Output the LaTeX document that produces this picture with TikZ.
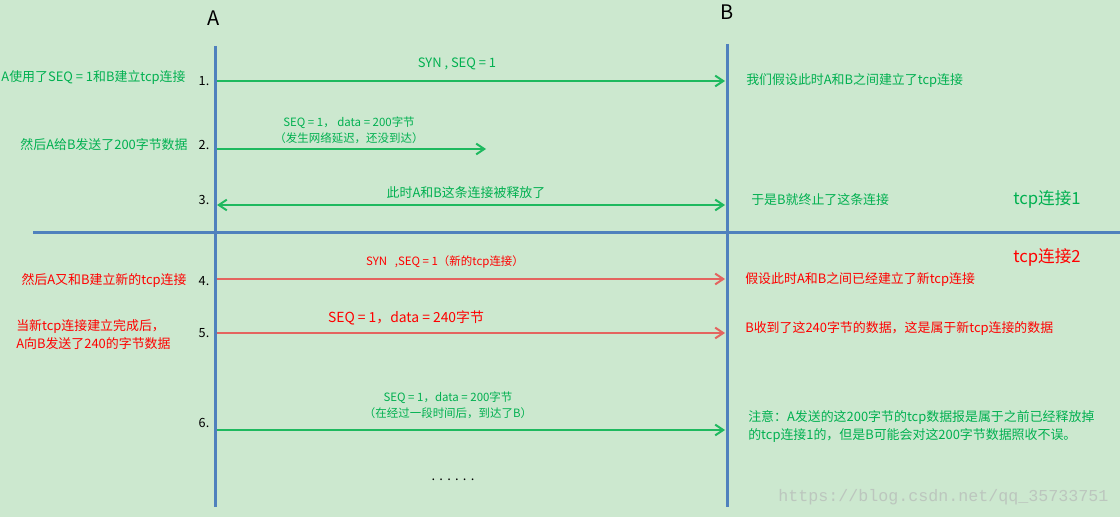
\documentclass[tikz,border=0pt]{standalone}
\usepackage{fontspec}
\setmainfont{Noto Sans CJK SC}
\newfontfamily\wmfont{Liberation Mono}
\usetikzlibrary{arrows.meta}
\definecolor{bg}{RGB}{204,232,207}
\definecolor{lifeblue}{RGB}{79,129,189}
\definecolor{tgreen}{RGB}{0,176,80}
\definecolor{agreen}{RGB}{30,185,95}
\definecolor{tred}{RGB}{255,0,0}
\definecolor{ared}{RGB}{228,100,95}
\definecolor{wmgray}{RGB}{188,198,190}
\tikzset{
  life/.style={draw=lifeblue,line width=2.25pt},
  msg/.style={line width=1.5pt,-{Straight Barb[length=6pt,width=8pt]}},
  dmsg/.style={line width=1.5pt,{Straight Barb[length=6pt,width=8pt]}-{Straight Barb[length=6pt,width=8pt]}},
  lbl/.style={inner sep=0pt,font=\fontsize{9.7}{13.5}\selectfont},
  small/.style={inner sep=0pt,font=\fontsize{8.6}{12}\selectfont},
  big/.style={inner sep=0pt,font=\fontsize{10.4}{14}\selectfont},
  huge/.style={inner sep=0pt,font=\fontsize{12.5}{15}\selectfont},
  num/.style={inner sep=0pt,font=\fontsize{9.5}{12}\selectfont,text=black},
  gr/.style={text=tgreen},
  rd/.style={text=tred},
}
\begin{document}
\begin{tikzpicture}[x=0.75pt,y=-0.75pt]
\fill[bg] (0,0) rectangle (1120,517);
\useasboundingbox (0,0) rectangle (1120,517);

% lifelines
\node[inner sep=0pt,font=\fontsize{15}{18}\selectfont] (Alab) at (214,18) {A};
\node[inner sep=0pt,font=\fontsize{15}{18}\selectfont] (Blab) at (727,12) {B};
\coordinate (Atop) at (215,46);
\coordinate (Abot) at (215,507);
\coordinate (Btop) at (727,44);
\coordinate (Bbot) at (727,507);
\coordinate (divL) at (33,232);
\coordinate (divR) at (1120,232);
\draw[life] (divL) -- (divR);
\draw[life] (Atop) -- (Abot);
\draw[life] (Btop) -- (Bbot);

% arrow endpoints
\coordinate (a1) at (217,81);  \coordinate (b1) at (725,81);
\coordinate (a2) at (217,149); \coordinate (b2) at (486,149);
\coordinate (a3) at (217,205); \coordinate (b3) at (725,205);
\coordinate (a4) at (217,279); \coordinate (b4) at (725,279);
\coordinate (a5) at (217,333); \coordinate (b5) at (725,333);
\coordinate (a6) at (217,430); \coordinate (b6) at (725,430);

\draw[msg,agreen] (a1) -- (b1);
\draw[msg,agreen] (a2) -- (b2);
\draw[dmsg,agreen] (a3) -- (b3);
\draw[msg,ared] (a4) -- (b4);
\draw[msg,ared] (a5) -- (b5);
\draw[msg,agreen] (a6) -- (b6);

% numbers
\node[num] (n1) at (204,81) {1.};
\node[num] (n2) at (204,145) {2.};
\node[num] (n3) at (204,200) {3.};
\node[num] (n4) at (204,281) {4.};
\node[num] (n5) at (204,333) {5.};
\node[num] (n6) at (204,423) {6.};

% arrow labels
\node[lbl,gr] (m1) at (457,64) {SYN , SEQ = 1};
\node[small,gr,align=center] (m2) at (349,130) {SEQ = 1， data = 200字节\\（发生网络延迟，还没到达）};
\node[lbl,gr] (m3) at (466,193) {此时A和B这条连接被释放了};
\node[small,rd] (m4) at (445,262) {SYN \ \ ,SEQ = 1（新的tcp连接）};
\node[big,rd] (m5) at (406,318) {SEQ = 1，data = 240字节};
\node[small,gr,align=center] (m6) at (448,405) {SEQ = 1，data = 200字节\\（在经过一段时间后，到达了B）};
\node[lbl,text=black] (dots) at (453,480) {.\hspace{3.2pt}.\hspace{3.2pt}.\hspace{3.2pt}.\hspace{3.2pt}.\hspace{3.2pt}.};

% left notes
\node[lbl,gr] (l1) at (93.5,78) {A使用了SEQ = 1和B建立tcp连接};
\node[lbl,gr] (l2) at (104,145) {然后A给B发送了200字节数据};
\node[lbl,rd] (l4) at (104,280) {然后A又和B建立新的tcp连接};
\node[lbl,rd,anchor=west,align=left] (l5) at (16,335) {当新tcp连接建立完成后，\\A向B发送了240的字节数据};

% right notes
\node[lbl,gr,anchor=west] (r1) at (746,81) {我们假设此时A和B之间建立了tcp连接};
\node[lbl,gr,anchor=west] (r3) at (751,200) {于是B就终止了这条连接};
\node[huge,gr,anchor=west] (t1) at (1013,199) {tcp连接1};
\node[huge,rd,anchor=west] (t2) at (1013,257) {tcp连接2};
\node[lbl,rd,anchor=west] (r4) at (745,280) {假设此时A和B之间已经建立了新tcp连接};
\node[lbl,rd,anchor=west] (r5) at (745,329) {B收到了这240字节的数据，这是属于新tcp连接的数据};
\node[lbl,gr,anchor=west,align=left] (r6) at (748,426) {注意：A发送的这200字节的tcp数据报是属于之前已经释放掉\\的tcp连接1的，但是B可能会对这200字节数据照收不误。};

% watermark
\node[inner sep=0pt,anchor=west,text=wmgray,font=\wmfont\fontsize{12.5}{14}\selectfont] (wm) at (778,497) {https://blog.csdn.net/qq\_35733751};
\end{tikzpicture}
\end{document}
